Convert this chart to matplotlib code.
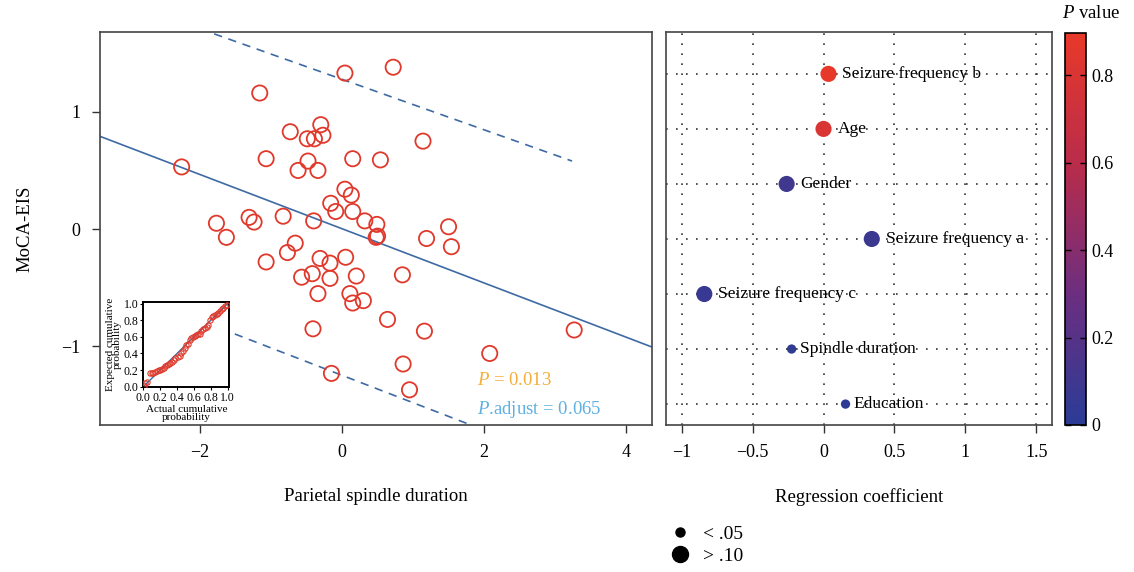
import numpy as np
import matplotlib.pyplot as plt
from matplotlib.colors import LinearSegmentedColormap, Normalize
from matplotlib.lines import Line2D
import matplotlib as mpl

plt.rcParams['font.family'] = ['Liberation Serif', 'DejaVu Serif']
plt.rcParams['mathtext.fontset'] = 'custom'
plt.rcParams['mathtext.it'] = 'Liberation Serif:italic'
plt.rcParams['mathtext.rm'] = 'Liberation Serif'

# scatter data (parietal spindle duration vs MoCA-EIS)
spindle = [-2.26, -1.16, 0.04, 0.72, -0.30, -0.73, -0.49, -0.39, -0.27, -1.07,
           -0.48, -0.62, -0.34, 0.15, 0.54, 1.14, 0.04, 0.13, -0.16, -0.09,
           0.15, 0.32, 0.49, -1.77, -1.63, -1.31, -1.24, -0.83, -0.40, 0.48,
           0.50, 1.19, 1.50, 1.54, -0.66, -0.77, -1.07, -0.31, -0.17, 0.05,
           -0.57, -0.42, -0.17, 0.20, 0.85, -0.34, 0.11, 0.15, 0.30, 0.64,
           -0.41, 1.16, 3.27, 2.08, 0.86, -0.15, 0.95]
moca = [0.53, 1.16, 1.33, 1.38, 0.89, 0.83, 0.77, 0.77, 0.80, 0.60,
        0.58, 0.50, 0.50, 0.60, 0.59, 0.75, 0.34, 0.29, 0.22, 0.15,
        0.15, 0.07, 0.04, 0.05, -0.07, 0.10, 0.06, 0.11, 0.07, -0.07,
        -0.06, -0.08, 0.02, -0.15, -0.12, -0.20, -0.28, -0.25, -0.29, -0.24,
        -0.41, -0.38, -0.42, -0.40, -0.39, -0.55, -0.55, -0.63, -0.61, -0.77,
        -0.85, -0.87, -0.86, -1.06, -1.15, -1.23, -1.37]

# fit and bands
fit_slope, fit_icpt = -0.231, 0.003
band_up_x = [-2.2, 3.24]
band_up_y = [1.75, 0.58]
band_lo_x = [-2.3, 1.9]
band_lo_y = [-0.71, -1.69]

# P-P plot of residuals (inset)
pp_actual = [0.01, 0.02, 0.04, 0.08, 0.10, 0.12, 0.14, 0.16, 0.18, 0.20, 0.22, 0.24, 0.26,
             0.28, 0.30, 0.32, 0.34, 0.36, 0.38, 0.41, 0.43, 0.45, 0.47, 0.49, 0.51,
             0.53, 0.55, 0.57, 0.59, 0.61, 0.63, 0.65, 0.67, 0.69, 0.71, 0.73, 0.75,
             0.77, 0.79, 0.81, 0.83, 0.85, 0.87, 0.89, 0.91, 0.93, 0.95, 0.97, 0.99]
pp_expected = [0.01, 0.04, 0.06, 0.16, 0.17, 0.17, 0.18, 0.19, 0.20, 0.20, 0.21, 0.23, 0.25,
               0.26, 0.27, 0.28, 0.30, 0.32, 0.34, 0.36, 0.37, 0.40, 0.43, 0.47, 0.50,
               0.52, 0.56, 0.59, 0.60, 0.61, 0.62, 0.63, 0.63, 0.67, 0.70, 0.71, 0.72,
               0.74, 0.80, 0.84, 0.85, 0.86, 0.87, 0.89, 0.91, 0.93, 0.95, 0.97, 0.99]

# regression coefficients
factors = ['Seizure frequency b', 'Age', 'Gender', 'Seizure frequency a',
           'Seizure frequency c', 'Spindle duration', 'Education']
coefs = [0.035, 0.0, -0.26, 0.34, -0.84, -0.225, 0.155]
pvals = [0.89, 0.80, 0.10, 0.08, 0.06, 0.03, 0.02]
sig = ['big', 'big', 'big', 'big', 'big', 'small', 'small']

red = '#E0392B'
blue = '#3E6AA3'

fig = plt.figure(figsize=(11.34, 5.72), dpi=100)

# ---- left panel
ax = fig.add_axes([0.0882, 0.257, 0.487, 0.687])
ax.scatter(spindle, moca, s=120, facecolors='none', edgecolors=red, linewidths=1.3, zorder=3)
xx = np.array([-3.5, 4.5])
ax.plot(xx, fit_icpt + fit_slope * xx, color=blue, lw=1.2)
ax.plot(band_up_x, band_up_y, color=blue, lw=1.2, ls=(0, (5, 4)))
ax.plot(band_lo_x, band_lo_y, color=blue, lw=1.2, ls=(0, (5, 4)))
ax.set_xlim(-3.41, 4.37)
ax.set_ylim(-1.67, 1.68)
ax.set_xticks([-2, 0, 2, 4])
ax.set_yticks([-1, 0, 1])
ax.tick_params(labelsize=13, length=6, width=1, color='#333333', pad=8)
ax.set_xlabel('Parietal spindle duration', fontsize=13.5, labelpad=19)
ax.set_ylabel('MoCA-EIS', fontsize=13.5, labelpad=20)
for sp in ax.spines.values():
    sp.set_color('#444444')
    sp.set_linewidth(1.2)
ax.text(1.9, -1.29, '$P$ = 0.013', color='#F5AE3C', fontsize=13.5, va='center')
ax.text(1.9, -1.54, '$P$.adjust = 0.065', color='#5FB0E0', fontsize=13.5, va='center')

# inset
ins = fig.add_axes([0.1264, 0.324, 0.0758, 0.148])
ins.plot([0, 1], [0, 1], color=blue, lw=1.0, zorder=2)
ins.plot(pp_actual, pp_expected, 'o', mfc='none', mec=red, ms=3.8, mew=0.8, zorder=3)
ins.set_xlim(0, 1.02)
ins.set_ylim(0, 1.02)
ins.set_xticks([0, 0.2, 0.4, 0.6, 0.8, 1.0])
ins.set_yticks([0, 0.2, 0.4, 0.6, 0.8, 1.0])
ins.xaxis.set_major_formatter('{x:.1f}')
ins.yaxis.set_major_formatter('{x:.1f}')
ins.tick_params(labelsize=8.5, length=2.5, pad=1)
ins.set_xlabel('Actual cumulative\nprobability', fontsize=8, labelpad=1, linespacing=0.8)
ins.set_ylabel('Expected cumulative\nprobability', fontsize=8, labelpad=1, linespacing=0.8)
for sp in ins.spines.values():
    sp.set_linewidth(1.4)

# ---- right panel
cmap = LinearSegmentedColormap.from_list('pv', ['#2A3C96', '#6C2E80', '#B92C4A', '#E8392A'])
norm = Normalize(0, 0.896)
ax2 = fig.add_axes([0.5873, 0.257, 0.3404, 0.687])
ypos = np.arange(len(factors), 0, -1)
for gx in [-1, -0.5, 0, 0.5, 1, 1.5]:
    ax2.axvline(gx, color='#333333', lw=1.2, ls=(0, (1, 5)), zorder=0)
for gy in ypos:
    ax2.axhline(gy, color='#333333', lw=1.2, ls=(0, (1, 5)), zorder=0)
sizes = [135 if s == 'big' else 45 for s in sig]
ax2.scatter(coefs, ypos, s=sizes, c=pvals, cmap=cmap, norm=norm, zorder=3, edgecolors='none')
for c, yp, name, s in zip(coefs, ypos, factors, sig):
    off = 10 if s == 'big' else 6
    ax2.annotate(name, (c, yp), xytext=(off, 0), textcoords='offset points',
                 va='center', ha='left', fontsize=12.5)
ax2.set_xlim(-1.11, 1.61)
ax2.set_ylim(0.62, 7.76)
ax2.set_xticks([-1, -0.5, 0, 0.5, 1, 1.5])
ax2.set_xticklabels(['\u22121', '\u22120.5', '0', '0.5', '1', '1.5'])
ax2.set_yticks([])
ax2.tick_params(labelsize=13, length=6, width=1, color='#333333', pad=8)
ax2.set_xlabel('Regression coefficient', fontsize=13.5, labelpad=19)
for sp in ax2.spines.values():
    sp.set_color('#444444')
    sp.set_linewidth(1.2)

# colorbar
cax = fig.add_axes([0.939, 0.257, 0.019, 0.685])
cb = fig.colorbar(mpl.cm.ScalarMappable(norm=norm, cmap=cmap), cax=cax)
cb.set_ticks([0, 0.2, 0.4, 0.6, 0.8])
cb.set_ticklabels(['0', '0.2', '0.4', '0.6', '0.8'])
cax.tick_params(labelsize=13, direction='in', left=True, right=True, length=4, width=1)
cb.outline.set_linewidth(1.2)
cax.set_title('$P$ value', fontsize=13.5, pad=11, loc='left', x=-0.15)

# size legend
handles = [Line2D([], [], marker='o', ls='none', color='black', ms=6.5),
           Line2D([], [], marker='o', ls='none', color='black', ms=11.5)]
fig.legend(handles, ['< .05', '> .10'], loc='center left', bbox_to_anchor=(0.578, 0.047),
           frameon=False, fontsize=14, handletextpad=0.45, labelspacing=0.25,
           handlelength=1.5, borderpad=0)

fig.savefig('out.png', dpi=100)
